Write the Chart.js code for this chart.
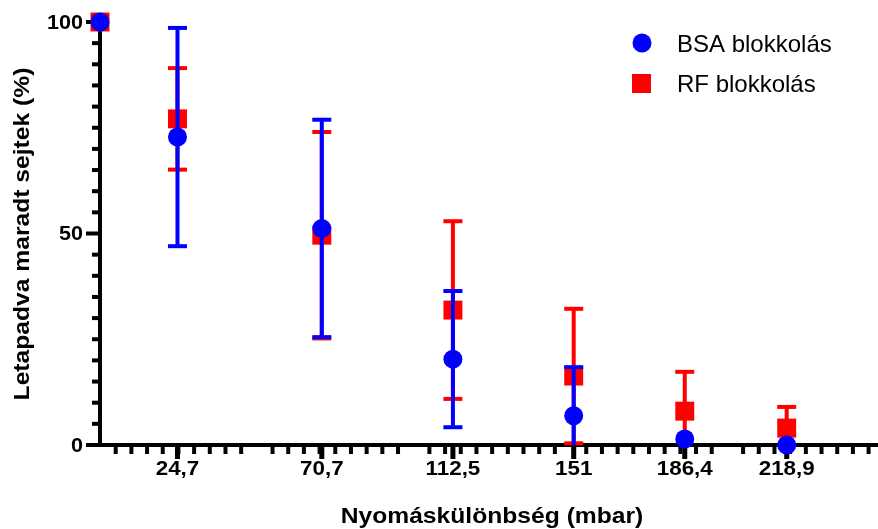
<!DOCTYPE html>
<html>
<head>
<meta charset="utf-8">
<script src="https://cdn.jsdelivr.net/npm/chart.js@4.4.1/dist/chart.umd.min.js"></script>
<style>
    html, body { margin: 0; padding: 0; background: #fff; }
    #wrap { width: 878px; height: 529px; }
</style>
</head>
<body>
<div id="wrap"><canvas id="chart" width="878" height="529"></canvas></div>
<script>
// nyomáskülönbség értékek (mbar)
var pressures = [0, 24.7, 70.7, 112.5, 151, 186.4, 218.9];
var xTickValues = [24.7, 70.7, 112.5, 151, 186.4, 218.9];
var xTickLabels = ['24,7', '70,7', '112,5', '151', '186,4', '218,9'];
var yTickValues = [0, 50, 100];
var yTickLabels = ['0', '50', '100'];

var bsaMean = [100, 72.8, 51.2, 20.3, 6.9, 1.4, 0];
var bsaErr  = [0, 25.8, 25.7, 16.1, 11.5, 0, 0];
var rfMean  = [100, 77.1, 49.6, 31.9, 16.3, 8.0, 4.0];
var rfErr   = [0, 12.0, 24.4, 21.0, 15.9, 9.3, 5.0];

var xTitle = 'Nyomáskülönbség (mbar)';
var yTitle = 'Letapadva maradt sejtek (%)';

var FONT = '"Liberation Sans", Arial, sans-serif';

function toPoints(means) {
    return pressures.map(function(p, i) { return { x: p, y: means[i] }; });
}

function stretchText(ctx, text, x, y, align, sx) {
    ctx.save();
    ctx.translate(x, y);
    ctx.scale(sx, 1);
    ctx.textAlign = align;
    ctx.fillText(text, 0, 0);
    ctx.restore();
}

// tengelyek saját rajzolása (hosszú és rövid osztásokkal)
var axesPlugin = {
    id: 'axesPlugin',
    beforeDatasetsDraw: function(chart) {
        var ctx = chart.ctx, xs = chart.scales.x, ys = chart.scales.y;
        var x0 = xs.getPixelForValue(0), y0 = ys.getPixelForValue(0);
        var yTop = ys.getPixelForValue(100);
        ctx.save();
        ctx.fillStyle = '#000';
        // y tengely
        ctx.fillRect(x0 - 2, yTop - 1, 4, y0 - yTop + 3);
        for (var v = 5; v < 100; v += 5) {
            if (v % 50 === 0) continue;
            var py = ys.getPixelForValue(v);
            ctx.fillRect(x0 - 8, py - 2, 8, 4);
        }
        yTickValues.forEach(function(v) {
            var py = ys.getPixelForValue(v);
            ctx.fillRect(x0 - 14, py - 2, 14, 4);
        });
        // x tengely
        ctx.fillRect(x0 - 2, y0 - 2, chart.width - x0 + 2, 4);
        for (var u = 5; u < xs.max; u += 5) {
            if (u % 50 === 0) continue;
            var px = xs.getPixelForValue(u);
            ctx.fillRect(px - 2, y0, 4, 9);
        }
        xTickValues.forEach(function(v) {
            var px = xs.getPixelForValue(v);
            ctx.fillRect(px - 2.5, y0, 5, 14);
        });
        // osztás feliratok
        ctx.font = 'bold 20px ' + FONT;
        ctx.textBaseline = 'middle';
        yTickValues.forEach(function(v, i) {
            stretchText(ctx, yTickLabels[i], x0 - 17, ys.getPixelForValue(v) + 1, 'right', 1.08);
        });
        ctx.textBaseline = 'alphabetic';
        xTickValues.forEach(function(v, i) {
            stretchText(ctx, xTickLabels[i], xs.getPixelForValue(v), 475, 'center', 1.12);
        });
        // tengelycímek
        ctx.font = 'bold 22px ' + FONT;
        stretchText(ctx, xTitle, 492, 523, 'center', 1.12);
        ctx.save();
        ctx.translate(29, 234);
        ctx.rotate(-Math.PI / 2);
        stretchText(ctx, yTitle, 0, 0, 'center', 1.12);
        ctx.restore();
        ctx.restore();
    }
};

// hibasávok, mindegyik a saját pontjai alá
var errorBars = {
    id: 'errorBars',
    beforeDatasetDraw: function(chart, args) {
        var ds = chart.data.datasets[args.index];
        var ctx = chart.ctx, xs = chart.scales.x, ys = chart.scales.y;
        ctx.save();
        ctx.fillStyle = ds.backgroundColor;
        ds.errors.forEach(function(e, i) {
            if (!e) return;
            var px = xs.getPixelForValue(pressures[i]);
            var hi = ds.means[i] + e, lo = ds.means[i] - e;
            var pHi = ys.getPixelForValue(hi);
            var pLo = ys.getPixelForValue(Math.max(lo, 0));
            ctx.fillRect(px - 2, pHi, 4, pLo - pHi);
            ctx.fillRect(px - 9.5, pHi - 2, 19, 4);
            if (lo >= 0) ctx.fillRect(px - 9.5, pLo - 2, 19, 4);
        });
        ctx.restore();
    }
};

var legendPlugin = {
    id: 'legendPlugin',
    afterDraw: function(chart) {
        var ctx = chart.ctx;
        ctx.save();
        ctx.fillStyle = '#0000ff';
        ctx.beginPath();
        ctx.arc(642, 43, 9.5, 0, Math.PI * 2);
        ctx.fill();
        ctx.fillStyle = '#ff0000';
        ctx.fillRect(632, 74, 19, 19);
        ctx.fillStyle = '#000';
        ctx.font = '24px ' + FONT;
        ctx.textAlign = 'left';
        ctx.fillText(chart.data.datasets[0].label, 677, 52);
        ctx.fillText(chart.data.datasets[1].label, 677, 92);
        ctx.restore();
    }
};

document.addEventListener('DOMContentLoaded', function() {
    var ctx = document.getElementById('chart').getContext('2d');
    var chart = new Chart(ctx, {
        type: 'scatter',
        data: {
            datasets: [{
                label: 'BSA blokkolás',
                data: toPoints(bsaMean),
                means: bsaMean,
                errors: bsaErr,
                backgroundColor: '#0000ff',
                borderColor: '#0000ff',
                pointStyle: 'circle',
                pointRadius: 9.5,
                pointBorderWidth: 0,
                clip: false
            }, {
                label: 'RF blokkolás',
                data: toPoints(rfMean),
                means: rfMean,
                errors: rfErr,
                backgroundColor: '#ff0000',
                borderColor: '#ff0000',
                pointStyle: 'rect',
                pointRadius: 13.4,
                pointBorderWidth: 0,
                clip: false
            }]
        },
        options: {
            responsive: false,
            animation: false,
            layout: { autoPadding: false, padding: { left: 100, top: 22, right: 0, bottom: 84 } },
            scales: {
                x: { type: 'linear', min: 0, max: 248, display: false },
                y: { type: 'linear', min: 0, max: 100, display: false }
            },
            plugins: {
                legend: { display: false },
                tooltip: { enabled: false }
            }
        },
        plugins: [axesPlugin, errorBars, legendPlugin]
    });
});
</script>
</body>
</html>
